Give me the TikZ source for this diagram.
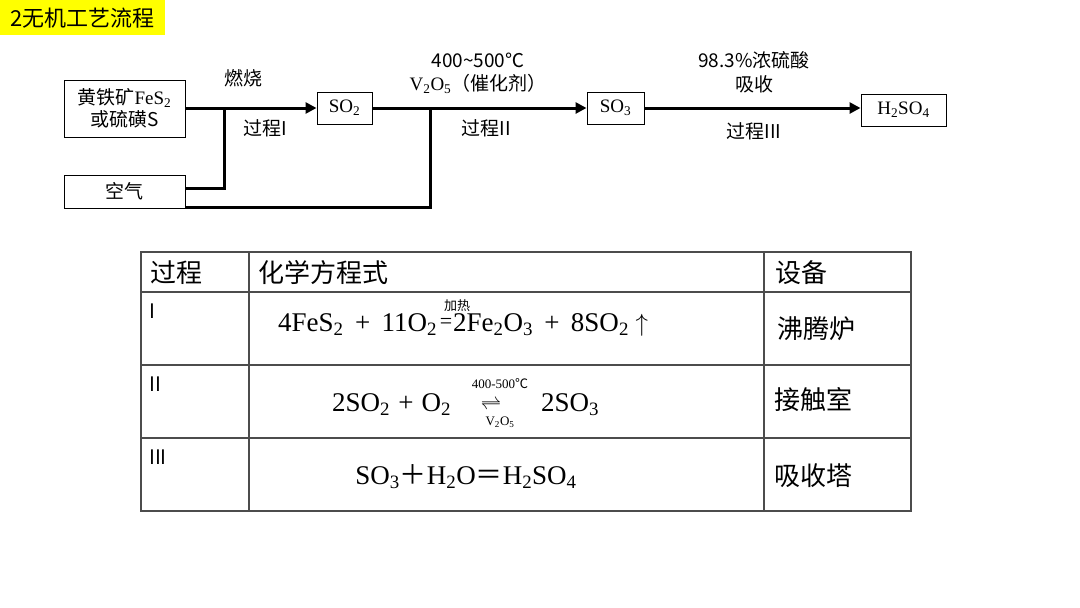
\documentclass[tikz,border=0pt]{standalone}
\usepackage{amsmath}
\usepackage{fontspec}
\setmainfont{Noto Sans CJK SC}
\newfontfamily\ser{Liberation Serif}
\newfontfamily\cjk{Noto Sans CJK SC}
\usetikzlibrary{arrows.meta}
\newcommand\sbs[1]{\textsubscript{#1}}
\newcommand\pl{\hspace{0.42em}+\hspace{0.42em}}
\newcommand\plb{\hspace{0.3em}+\hspace{0.3em}}
\begin{document}
\begin{tikzpicture}[x=1pt,y=-1pt,
  box/.style={draw,line width=1pt,inner sep=0pt,align=center,font=\fontsize{19}{22}\selectfont},
  flow/.style={line width=3pt},
  flowarr/.style={line width=3pt,-{Triangle[length=11pt,width=11pt]}},
  lab/.style={font=\fontsize{19}{22}\selectfont,inner sep=0pt},
  tline/.style={line width=1.3pt,draw=black!70},
  thead/.style={font=\fontsize{26}{28}\selectfont,inner sep=0pt},
  tnum/.style={font=\fontsize{20}{22}\selectfont,inner sep=0pt,anchor=north west},
  teq/.style={font=\ser\fontsize{27}{30}\selectfont,inner sep=0pt},
  small/.style={font=\ser\fontsize{13}{15}\selectfont,inner sep=0pt}]
\useasboundingbox (0,0) rectangle (1080,608);
% title
\node[fill={rgb,255:red,255;green,255;blue,0},minimum width=165pt,minimum height=35pt,inner sep=0pt,anchor=north west,font=\fontsize{22}{24}\selectfont] (title) at (0,0) {2无机工艺流程};
% boxes
\node[box,minimum width=121pt,minimum height=57pt] (ore) at (124.5,108.5) {黄铁矿{\ser FeS\sbs{2}}\\或硫磺S};
\node[box,minimum width=121pt,minimum height=33pt] (air) at (124.5,191.5) {空气};
\node[box,minimum width=55pt,minimum height=32pt] (so2) at (344.5,108) {\ser SO\sbs{2}};
\node[box,minimum width=57pt,minimum height=32pt] (so3) at (615.5,108) {\ser SO\sbs{3}};
\node[box,minimum width=85pt,minimum height=32pt] (h2so4) at (903.5,110) {\ser H\sbs{2}SO\sbs{4}};
% connectors
\coordinate (j1) at (224,108);
\coordinate (j1b) at (224,188);
\coordinate (j2) at (430,108);
\coordinate (j2b) at (430,207);
\draw[flowarr] (ore.east |- j1) -- (so2.west);
\draw[flow] (j1b -| air.east) -- (j1b) -- (j1);
\draw[flowarr] (so2.east |- j2) -- (so3.west);
\draw[flow] (j2b -| air.east) -- (j2b) -- (j2);
\draw[flowarr] (so3.east) -- (h2so4.west |- so3.east);
% labels
\node[lab] (l1) at (243,78) {燃烧};
\node[lab] (l2) at (265,128) {过程I};
\node[lab] (l3) at (478,60) {400\textasciitilde500℃};
\node[lab] (l4) at (478,84) {{\ser V\sbs{2}O\sbs{5}}（催化剂）};
\node[lab] (l5) at (486,128) {过程II};
\node[lab] (l6) at (754,60) {98.3\%浓硫酸};
\node[lab] (l7) at (754,84) {吸收};
\node[lab] (l8) at (754,131) {过程III};
% table
\draw[tline] (141,252) rectangle (911,511);
\draw[tline] (141,292) -- (911,292);
\draw[tline] (141,365) -- (911,365);
\draw[tline] (141,438) -- (911,438);
\draw[tline] (249,252) -- (249,511);
\draw[tline] (764,252) -- (764,511);
\node[thead] (h1) at (176,273) {过程};
\node[thead,anchor=west] (h2) at (258,273) {化学方程式};
\node[thead,anchor=west] (h3) at (775,273) {设备};
\node[tnum] (r1) at (149,304) {I};
\node[tnum] (r2) at (149,377) {II};
\node[tnum] (r3) at (149,450) {III};
\node[teq,anchor=west] (e1a) at (278,325) {4FeS\sbs{2}\pl 11O\sbs{2}};
\node[teq,font=\ser\fontsize{22}{24}\selectfont] (e1eq) at (446,323) {=};
\node[teq,anchor=west] (e1b) at (453,325) {2Fe\sbs{2}O\sbs{3}\pl 8SO\sbs{2}\hspace{0.25em}$\uparrow$};
\node[small,font=\cjk\fontsize{13}{15}\selectfont,anchor=south] (e1l) at (457,312) {加热};
\node[teq,anchor=west] (e2a) at (332,405) {2SO\sbs{2}\plb O\sbs{2}};
\node[inner sep=0pt,font=\fontsize{22}{24}\selectfont] (e2arr) at (491,405) {$\rightleftharpoons$};
\node[teq,anchor=west] (e2b) at (541,405) {2SO\sbs{3}};
\node[small] (e2t) at (500,384) {400-500{\cjk ℃}};
\node[small] (e2v) at (500,422) {V\sbs{2}O\sbs{5}};
\node[teq] (e3) at (466,477) {SO\sbs{3}{\cjk ＋}H\sbs{2}O{\cjk ＝}H\sbs{2}SO\sbs{4}};
\node[thead] (d1) at (816,329) {沸腾炉};
\node[thead] (d2) at (813,400) {接触室};
\node[thead] (d3) at (813,476) {吸收塔};
\end{tikzpicture}
\end{document}
